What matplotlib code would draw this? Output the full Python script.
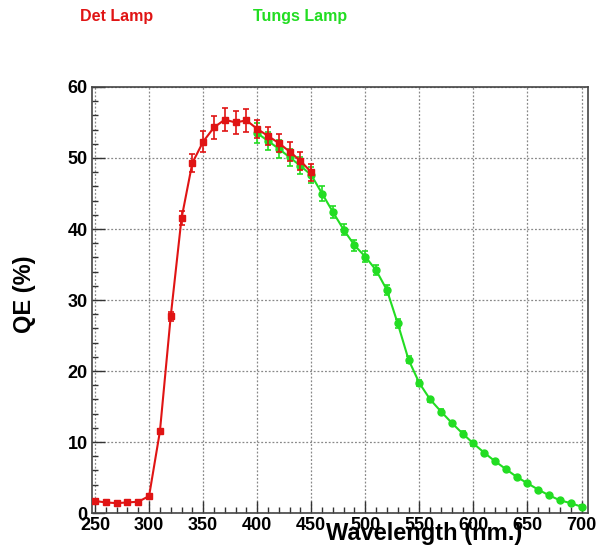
"""
QE vs wavelength, Det lamp and Tungsten lamp measurements
"""
import matplotlib
matplotlib.use("Agg")
import matplotlib.pyplot as plt
from matplotlib.ticker import MultipleLocator

plt.rcParams['font.family'] = ['Liberation Sans', 'DejaVu Sans']

# Det lamp points
det_wl = [250, 260, 270, 280, 290, 300, 310, 320, 330, 340, 350,
          360, 370, 380, 390, 400, 410, 420, 430, 440, 450]
det_qe = [1.7, 1.5, 1.4, 1.5, 1.6, 2.4, 11.5, 27.7, 41.5, 49.3, 52.3,
          54.3, 55.4, 55.0, 55.3, 54.1, 53.1, 52.1, 50.9, 49.6, 48.0]
det_err = [0.2, 0.2, 0.2, 0.2, 0.2, 0.3, 0.4, 0.6, 1.0, 1.3, 1.5,
           1.6, 1.6, 1.6, 1.6, 1.3, 1.3, 1.3, 1.3, 1.3, 1.2]

# Tungsten lamp points
tungs_wl = [400, 410, 420, 430, 440, 450, 460, 470, 480, 490, 500, 510, 520, 530,
            540, 550, 560, 570, 580, 590, 600, 610, 620, 630, 640, 650, 660,
            670, 680, 690, 700]
tungs_qe = [53.5, 52.4, 51.3, 50.1, 48.9, 47.6, 45.0, 42.4, 39.9, 37.7, 36.1, 34.2, 31.4, 26.7,
            21.6, 18.3, 16.0, 14.3, 12.7, 11.2, 9.8, 8.5, 7.3, 6.2, 5.1, 4.2, 3.3,
            2.5, 1.8, 1.4, 0.9]
tungs_err = [1.4, 1.3, 1.3, 1.2, 1.2, 1.1, 1.0, 0.9, 0.8, 0.8, 0.8, 0.7, 0.7, 0.6,
             0.5, 0.4, 0.3, 0.3, 0.3, 0.3, 0.3, 0.2, 0.2, 0.2, 0.2, 0.2, 0.2,
             0.2, 0.2, 0.2, 0.2]

red = '#e01414'
green = '#22dd22'

fig = plt.figure(figsize=(6.0, 5.47), dpi=100)
ax = fig.add_axes([0.153, 0.062, 0.827, 0.779])

ax.errorbar(tungs_wl, tungs_qe, yerr=tungs_err, color=green, marker='o', markersize=5,
            linewidth=1.5, elinewidth=1.2, capsize=2, capthick=1.2, zorder=3)
ax.errorbar(det_wl, det_qe, yerr=det_err, color=red, marker='s', markersize=5,
            linewidth=1.5, elinewidth=1.2, capsize=2, capthick=1.2, zorder=4)

ax.set_xlim(247, 706)
ax.set_ylim(0, 60)
ax.xaxis.set_major_locator(MultipleLocator(50))
ax.xaxis.set_minor_locator(MultipleLocator(10))
ax.yaxis.set_major_locator(MultipleLocator(10))
ax.yaxis.set_minor_locator(MultipleLocator(2))
ax.tick_params(which='both', direction='in', top=False, right=False, width=1, color='#333333')
ax.tick_params(which='major', length=9)
ax.tick_params(which='minor', length=4.5)
ax.tick_params(axis='both', labelsize=13, pad=3)
for lab in ax.get_xticklabels() + ax.get_yticklabels():
    lab.set_fontweight('bold')

ax.grid(True, which='major', linestyle=(0, (1.5, 1.5)), color='#888888', linewidth=0.9)
ax.set_axisbelow(True)
for sp in ax.spines.values():
    sp.set_color('#444444')
    sp.set_linewidth(1.2)

# the axis title sits over the tick labels, as in the original
ax.text(0.67, -0.048, 'Wavelength (nm.)', transform=ax.transAxes, ha='center', va='center',
        fontsize=17, fontweight='bold')
fig.text(0.04, 0.462, 'QE (%)', rotation=90, ha='center', va='center',
         fontsize=17, fontweight='bold')

fig.text(80 / 600, 1 - 17 / 547, 'Det Lamp', color=red, fontsize=11.5, fontweight='bold',
         ha='left', va='center')
fig.text(253 / 600, 1 - 17 / 547, 'Tungs Lamp', color=green, fontsize=11.5, fontweight='bold',
         ha='left', va='center')

fig.savefig('out.png', dpi=100)
